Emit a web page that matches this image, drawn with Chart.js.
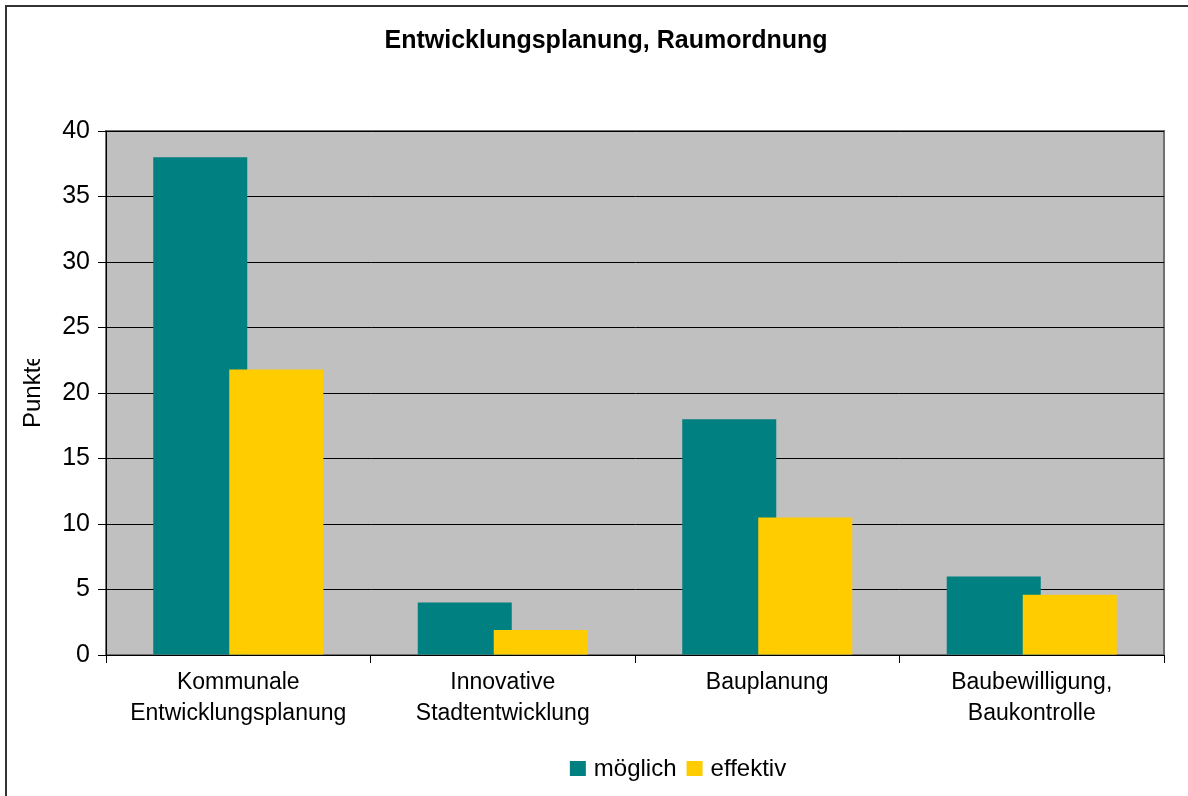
<!DOCTYPE html>
<html>
<head>
<meta charset="utf-8">
<script src="https://cdn.jsdelivr.net/npm/chart.js@4/dist/chart.umd.min.js"></script>
<style>
  html, body { margin: 0; padding: 0; background: #fff; }
  #wrap { position: relative; width: 1188px; height: 796px; overflow: hidden; }
  #frame { position: absolute; left: 5px; top: 5px; width: 1200px; height: 820px;
           border-top: 2px solid #333; border-left: 2px solid #333; }
  canvas { position: absolute; left: 0; top: 0; }
</style>
</head>
<body>
<div id="wrap">
  <div id="frame"></div>
  <canvas id="chart" width="1188" height="796"></canvas>
</div>
<script>
// Data
const categories = [
  ['Kommunale', 'Entwicklungsplanung'],
  ['Innovative', 'Stadtentwicklung'],
  ['Bauplanung'],
  ['Baubewilligung,', 'Baukontrolle'],
];
const moeglich = [38, 4, 18, 6];
const effektiv = [21.8, 1.9, 10.5, 4.6];
const seriesNames = ['möglich', 'effektiv'];
const seriesColors = ['#008080', '#FFCC00'];

const FONT = '"Liberation Sans", Arial, sans-serif';
const chartTitle = 'Entwicklungsplanung, Raumordnung';
const yTitle = 'Punkte';

// gray plot background with a thin gray frame
const plotBg = {
  id: 'plotBg',
  beforeDraw(chart) {
    const { ctx, chartArea: a } = chart;
    ctx.save();
    ctx.fillStyle = '#C0C0C0';
    ctx.fillRect(a.left, a.top, a.right - a.left, a.bottom - a.top);
    ctx.strokeStyle = '#707070';
    ctx.lineWidth = 2;
    ctx.strokeRect(a.left, a.top, a.right - a.left, a.bottom - a.top);
    ctx.restore();
  },
};

// draw datasets in index order so 'effektiv' overlaps 'möglich'
const drawInOrder = {
  id: 'drawInOrder',
  beforeDatasetsDraw(chart) {
    for (let i = 0; i < chart.data.datasets.length; i++) {
      const meta = chart.getDatasetMeta(i);
      if (!meta.hidden) meta.controller.draw();
    }
    return false;
  },
};

// title, clipped y-axis title and legend, placed like the original
const texts = {
  id: 'texts',
  afterDraw(chart) {
    const ctx = chart.ctx;
    ctx.save();
    ctx.fillStyle = '#000';

    ctx.font = `bold 25px ${FONT}`;
    ctx.textAlign = 'center';
    ctx.textBaseline = 'alphabetic';
    ctx.fillText(chartTitle, 606, 48);

    // y title, cut off at the top like in the picture
    ctx.save();
    ctx.beginPath();
    ctx.rect(0, 359, 60, 100);
    ctx.clip();
    ctx.translate(40, 428);
    ctx.rotate(-Math.PI / 2);
    ctx.font = `24px ${FONT}`;
    ctx.textAlign = 'left';
    ctx.fillText(yTitle, 0, 0);
    ctx.restore();

    // legend
    ctx.font = `24px ${FONT}`;
    ctx.textAlign = 'left';
    const box = 16, gapIn = 8, gapOut = 10;
    const widths = seriesNames.map(s => ctx.measureText(s).width);
    const total = widths.reduce((s, w) => s + box + gapIn + w, 0) + gapOut * (seriesNames.length - 1);
    let x = 678 - total / 2;
    seriesNames.forEach((name, i) => {
      ctx.fillStyle = seriesColors[i];
      ctx.fillRect(x, 761, box, 15);
      ctx.fillStyle = '#000';
      ctx.fillText(name, x + box + gapIn, 776);
      x += box + gapIn + widths[i] + gapOut;
    });
    ctx.restore();
  },
};

new Chart(document.getElementById('chart'), {
  type: 'bar',
  data: {
    labels: categories,
    datasets: [
      {
        label: seriesNames[0],
        data: moeglich,
        backgroundColor: seriesColors[0],
        borderWidth: 0,
        categoryPercentage: 0.5747,
        barPercentage: 1.237,
      },
      {
        label: seriesNames[1],
        data: effektiv,
        backgroundColor: seriesColors[1],
        borderWidth: 0,
        categoryPercentage: 0.5747,
        barPercentage: 1.237,
      },
    ],
  },
  options: {
    responsive: false,
    animation: false,
    layout: { padding: { top: 131, left: 0, right: 24, bottom: 0 } },
    plugins: {
      legend: { display: false },
      title: { display: false },
      tooltip: { enabled: false },
    },
    scales: {
      x: {
        afterFit: s => { s.height = 141; },
        grid: {
          offset: true,
          drawOnChartArea: false,
          drawTicks: true,
          tickLength: 8,
          color: '#000',
        },
        border: { color: '#000', width: 1 },
        ticks: {
          color: '#000',
          padding: 4,
          maxRotation: 0,
          autoSkip: false,
          font: { family: FONT, size: 23, lineHeight: 1.35 },
        },
      },
      y: {
        min: 0,
        max: 40,
        afterFit: s => { s.width = 106; },
        grid: { color: '#000', lineWidth: 1, tickLength: 8 },
        border: { color: '#000', width: 1 },
        ticks: {
          stepSize: 5,
          color: '#000',
          padding: 8,
          font: { family: FONT, size: 25 },
        },
      },
    },
  },
  plugins: [plotBg, drawInOrder, texts],
});
</script>
</body>
</html>
